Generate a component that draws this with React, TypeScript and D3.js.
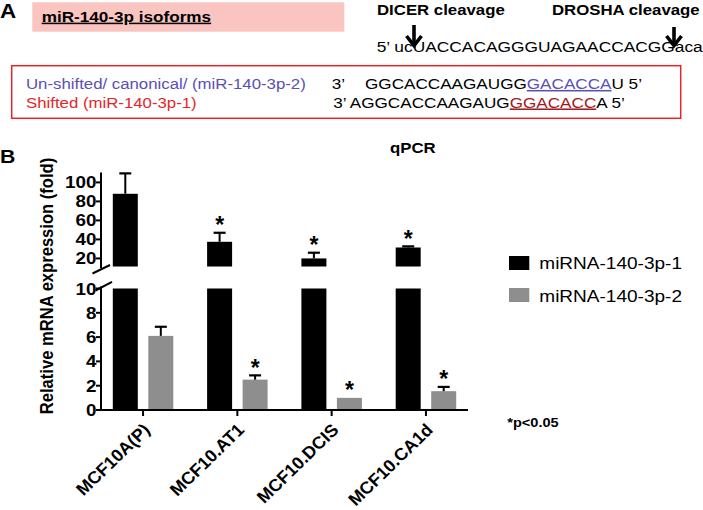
import React, { useEffect } from "react";
import * as d3 from "d3";

// ---------- data ----------
const categories = ["MCF10A(P)", "MCF10.AT1", "MCF10.DCIS", "MCF10.CA1d"];
const seriesNames = ["miRNA-140-3p-1", "miRNA-140-3p-2"];
const mir1Values = [88, 37.5, 20, 31.5];
const mir1Errors = [21.5, 9.5, 6, 1.2];
const mir2Values = [6.1, 2.5, 1.0, 1.55];
const mir2Errors = [0.75, 0.35, 0, 0.35];
const mir1Significant = [false, true, true, true];
const mir2Significant = [false, true, true, true];
const lowerTicks = [0, 2, 4, 6, 8, 10];
const upperTicks = [20, 40, 60, 80, 100];

const FONT = "'Liberation Sans', Arial, Helvetica, sans-serif";
const SX = 1.12;
const BLUE = "#5a4fb6";
const RED = "#e4262b";
const DARKRED = "#a11a1e";
const GRAY = "#8e8e8e";

type TProps = {
  x: number;
  y: number;
  size: number;
  bold?: boolean;
  anchor?: string;
  fill?: string;
  rotate?: number;
  sx?: number;
  underline?: boolean;
  children?: React.ReactNode;
};

function T({ x, y, size, bold, anchor, fill, rotate, sx, underline, children }: TProps) {
  const tr = `translate(${x},${y}) scale(${sx ?? SX},1)` + (rotate ? ` rotate(${rotate})` : "");
  return (
    <text
      transform={tr}
      fontFamily={FONT}
      fontSize={size}
      fontWeight={bold ? "bold" : "normal"}
      textAnchor={anchor || "start"}
      fill={fill || "#000"}
      style={underline ? { textDecoration: "underline" } : undefined}
    >
      {children}
    </text>
  );
}

export default function App() {
  useEffect(() => {
    document.body.style.margin = "0";
  }, []);

  const x = d3.scalePoint<string>().domain(categories).range([101, 468]).padding(0.446);
  const sub = d3.scaleBand<string>().domain(seriesNames).range([-30.25, 30.25]).paddingInner(0.296);
  const yLow = d3.scaleLinear().domain([0, 10]).range([410, 288.5]);
  const yUp = d3.scaleLinear().domain([11.5, 110]).range([266.5, 172.9]);

  const series = [
    { name: seriesNames[0], values: mir1Values, errors: mir1Errors, sig: mir1Significant, color: "#000" },
    { name: seriesNames[1], values: mir2Values, errors: mir2Errors, sig: mir2Significant, color: GRAY },
  ];

  const axisX = 101;
  const yOf = (v: number) => (v > 10 ? yUp(v) : yLow(v));

  return (
    <svg width={703} height={510} style={{ position: "absolute", left: 0, top: 0, display: "block", background: "#fff" }}>
      {/* ---------- Panel A ---------- */}
      <T x={0} y={18} size={20} bold>A</T>
      <rect x={32.3} y={2.3} width={312} height={29.4} fill="#fac4c0" />
      <T x={41.7} y={21.7} size={15.3} bold underline>miR-140-3p isoforms</T>

      <T x={377} y={15} size={15} bold>DICER cleavage</T>
      <T x={552} y={15} size={15} bold>DROSHA cleavage</T>

      {/* arrows */}
      <g stroke="#000" strokeWidth={3.6} fill="none" strokeLinecap="butt" strokeLinejoin="miter">
        <line x1={414} y1={25} x2={414} y2={44} />
        <path d="M406.5,36 L414,45.5 L421.5,36" />
        <line x1={674} y1={27} x2={674} y2={44} />
        <path d="M666.5,36 L674,45.5 L681.5,36" />
      </g>

      <T x={376.7} y={51.7} size={15.5}>5’ ucUACCACAGGGUAGAACCACGGaca</T>

      <rect x={11.7} y={65.7} width={669} height={52.6} fill="none" stroke={RED} strokeWidth={1.5} />
      <T x={26} y={89} size={15} fill={BLUE}>Un-shifted/ canonical/ (miR-140-3p-2)</T>
      <T x={26} y={107.5} size={15} fill={RED}>Shifted (miR-140-3p-1)</T>

      <T x={331.7} y={89} size={15.3}>3’</T>
      <T x={365} y={89} size={15.3}>
        <tspan>GGCACCAAGAUGG</tspan>
        <tspan fill={BLUE} style={{ textDecoration: "underline" }}>GACACCA</tspan>
        <tspan>U 5’</tspan>
      </T>
      <T x={333.3} y={107.5} size={15.3}>
        <tspan>3’ AGGCACCAAGAUG</tspan>
        <tspan fill={DARKRED} style={{ textDecoration: "underline" }}>GGACACC</tspan>
        <tspan>A 5’</tspan>
      </T>

      {/* ---------- Panel B ---------- */}
      <T x={0} y={163} size={19} bold>B</T>
      <T x={390} y={153} size={15} bold>qPCR</T>

      {/* y axis label */}
      <T x={53} y={286} size={16.6} bold anchor="middle" rotate={-90}>Relative mRNA expression (fold)</T>

      {/* bars */}
      {series.map((s) =>
        categories.map((c, i) => {
          const v = s.values[i];
          const bx = (x(c) as number) + (sub(s.name) as number);
          const bw = sub.bandwidth();
          const cx = bx + bw / 2;
          const els: React.ReactNode[] = [];
          const lowTop = yLow(Math.min(v, 10));
          els.push(<rect key="lo" x={bx} y={lowTop} width={bw} height={yLow(0) - lowTop} fill={s.color} />);
          if (v > 10) {
            els.push(<rect key="up" x={bx} y={yUp(v)} width={bw} height={yUp(11.5) - yUp(v)} fill={s.color} />);
          }
          const err = s.errors[i];
          const top = yOf(v);
          const capY = yOf(v + err);
          if (err > 0) {
            els.push(<line key="e1" x1={cx} x2={cx} y1={top} y2={capY} stroke="#000" strokeWidth={2} />);
            els.push(<line key="e2" x1={cx - 6} x2={cx + 6} y1={capY} y2={capY} stroke="#000" strokeWidth={2.2} />);
          }
          if (s.sig[i]) {
            els.push(
              <T key="st" x={cx} y={capY + 0.5} size={23} bold anchor="middle" sx={1}>*</T>
            );
          }
          return <g key={s.name + c}>{els}</g>;
        })
      )}

      {/* y axes */}
      <g stroke="#000" strokeWidth={2} fill="none">
        <line x1={axisX} x2={axisX} y1={yLow(0)} y2={286.5} />
        <line x1={axisX} x2={axisX} y1={268} y2={yUp(110.3)} />
        {lowerTicks.map((t) => (
          <line key={"lt" + t} x1={axisX - 5} x2={axisX} y1={yLow(t)} y2={yLow(t)} />
        ))}
        {upperTicks.map((t) => (
          <line key={"ut" + t} x1={axisX - 5} x2={axisX} y1={yUp(t)} y2={yUp(t)} />
        ))}
        {/* break marks */}
        <line x1={92.5} y1={273.5} x2={110} y2={265} strokeWidth={2} />
        <line x1={95.5} y1={290.5} x2={112} y2={281.8} strokeWidth={2} />
        {/* x axis */}
        <line x1={axisX - 1} x2={468} y1={yLow(0)} y2={yLow(0)} />
        {categories.map((c) => (
          <line key={"xt" + c} x1={x(c) as number} x2={x(c) as number} y1={yLow(0)} y2={yLow(0) + 6} />
        ))}
      </g>
      {lowerTicks.map((t) => (
        <T key={"ltl" + t} x={axisX - 4.5} y={yLow(t) + 6} size={16.8} bold anchor="end">{t}</T>
      ))}
      {upperTicks.map((t) => (
        <T key={"utl" + t} x={axisX - 4.5} y={yUp(t) + 6} size={16.8} bold anchor="end">{t}</T>
      ))}

      {/* x labels */}
      {categories.map((c) => (
        <T key={"xl" + c} x={(x(c) as number) + 8} y={yLow(0) + 21} size={17.4} bold anchor="end" rotate={-45} sx={1.03}>{c}</T>
      ))}

      {/* legend */}
      {series.map((s, i) => (
        <g key={"lg" + s.name}>
          <rect x={509} y={256 + i * 32} width={20.3} height={14} fill={s.color} />
          <T x={539.3} y={268.5 + i * 33} size={17}>{s.name}</T>
        </g>
      ))}

      <T x={507.3} y={426.7} size={13} bold>*p&lt;0.05</T>
    </svg>
  );
}
